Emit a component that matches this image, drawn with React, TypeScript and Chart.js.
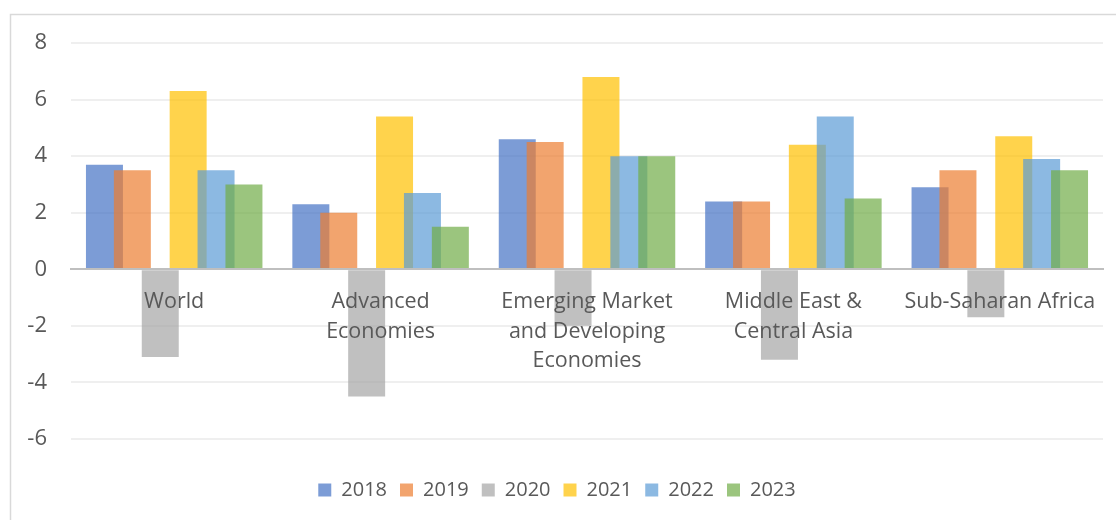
import React, { useEffect, useRef } from "react";
import { Chart, registerables } from "chart.js";

Chart.register(...registerables);

const categories: (string | string[])[] = [
  "World",
  ["Advanced", "Economies"],
  ["Emerging Market", "and Developing", "Economies"],
  ["Middle East &", "Central Asia"],
  "Sub-Saharan Africa",
];
const years = ["2018", "2019", "2020", "2021", "2022", "2023"];
const s2018 = [3.7, 2.3, 4.6, 2.4, 2.9];
const s2019 = [3.5, 2.0, 4.5, 2.4, 3.5];
const s2020 = [-3.1, -4.5, -2.0, -3.2, -1.7];
const s2021 = [6.3, 5.4, 6.8, 4.4, 4.7];
const s2022 = [3.5, 2.7, 4.0, 5.4, 3.9];
const s2023 = [3.0, 1.5, 4.0, 2.5, 3.5];
const yMin = -6;
const yMax = 8;
const yStep = 2;

const seriesValues = [s2018, s2019, s2020, s2021, s2022, s2023];
const seriesColors = [
  "rgba(68,114,196,0.7)",
  "rgba(237,125,49,0.7)",
  "rgba(165,165,165,0.7)",
  "rgba(255,192,0,0.7)",
  "rgba(91,155,213,0.7)",
  "rgba(112,173,71,0.7)",
];

const FONT = "'Open Sans', sans-serif";
const TEXT = "#595959";

const framePlugin = {
  id: "frame",
  beforeDraw(chart: any) {
    const ctx = chart.ctx;
    ctx.save();
    ctx.fillStyle = "#ffffff";
    ctx.fillRect(0, 0, chart.width, chart.height);
    ctx.strokeStyle = "#d9d9d9";
    ctx.lineWidth = 1.5;
    ctx.strokeRect(10.5, 14.5, chart.width + 50, chart.height + 50);
    ctx.restore();
  },
};

// draw later datasets on top of earlier ones (as in the reference)
const drawOrderPlugin = {
  id: "drawOrder",
  beforeDatasetsDraw(chart: any) {
    for (let i = 0; i < chart.data.datasets.length; i++) {
      if (!chart.isDatasetVisible(i)) continue;
      const meta = chart.getDatasetMeta(i);
      chart.ctx.save();
      meta.controller.draw();
      chart.ctx.restore();
    }
    return false;
  },
};

export default function App() {
  const ref = useRef<HTMLCanvasElement>(null);
  useEffect(() => {
    const chart = new Chart(ref.current!, {
      type: "bar",
      data: {
        labels: categories as any,
        datasets: years.map((y, i) => ({
          label: y,
          data: seriesValues[i],
          backgroundColor: seriesColors[i],
          borderWidth: 0,
          categoryPercentage: 0.811,
          barPercentage: 1.326,
        })),
      },
      options: {
        animation: false,
        responsive: true,
        maintainAspectRatio: false,
        layout: { padding: { left: 11, right: 13, top: 43, bottom: 10 } },
        plugins: {
          tooltip: { enabled: false },
          legend: {
            position: "bottom",
            labels: {
              boxWidth: 13,
              boxHeight: 13,
              padding: 13,
              color: TEXT,
              font: { family: FONT, size: 20 },
            },
          },
        },
        scales: {
          x: {
            type: "category",
            position: { y: 0 } as any,
            grid: { display: false, drawTicks: false },
            border: { display: true, color: "#bfbfbf", width: 2, z: 1 } as any,
            ticks: {
              z: 1,
              padding: 18,
              color: TEXT,
              maxRotation: 0,
              autoSkip: false,
              font: { family: FONT, size: 21.5, lineHeight: 29.5 / 21.5 },
            },
          },
          xPad: {
            type: "category",
            position: "bottom",
            grid: { display: false, drawTicks: false },
            border: { display: false },
            ticks: { display: false },
            afterFit: (s: any) => {
              s.height = 28;
            },
          },
          y: {
            min: yMin,
            max: yMax,
            grid: { color: "#efefef", lineWidth: 2, drawTicks: false },
            border: { display: false },
            ticks: {
              stepSize: yStep,
              padding: 24,
              color: TEXT,
              font: { family: FONT, size: 22 },
            },
            afterFit: (s: any) => {
              s.width = 60;
            },
          },
        },
      },
      plugins: [framePlugin, drawOrderPlugin],
    });
    return () => chart.destroy();
  }, []);
  return (
    <div
      style={{
        position: "fixed",
        left: 0,
        top: 0,
        width: 1116,
        height: 520,
        background: "#fff",
      }}
    >
      <canvas ref={ref} />
    </div>
  );
}
